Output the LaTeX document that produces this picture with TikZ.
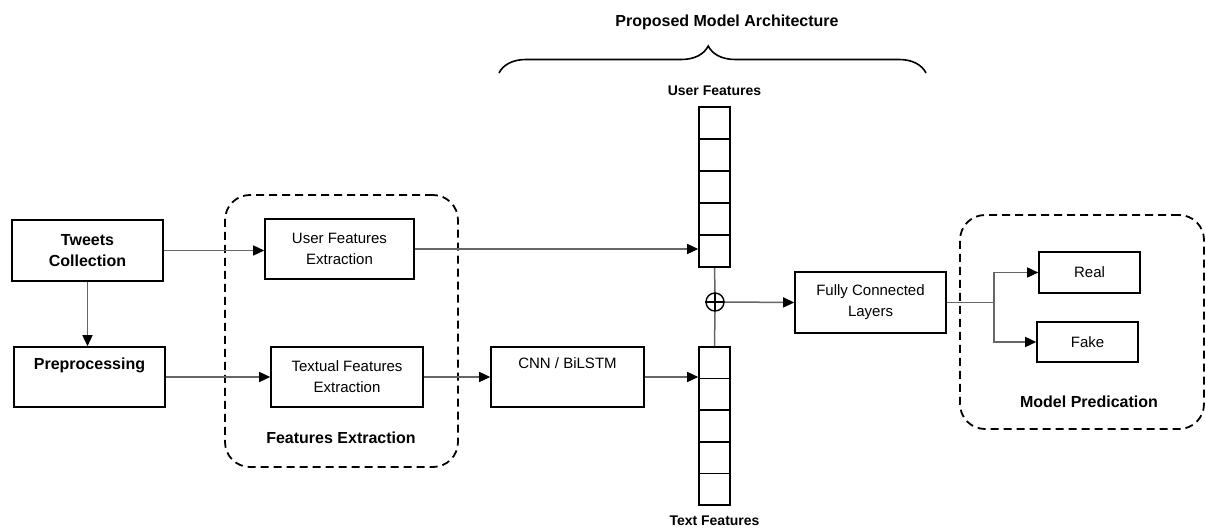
\documentclass[tikz,border=0pt]{standalone}
\usepackage{fontspec}
\setmainfont{Liberation Sans}
\usetikzlibrary{arrows.meta, positioning, decorations.pathreplacing}

\begin{document}
\begin{tikzpicture}[x=1pt, y=-1pt,
  box/.style={draw, line width=1.6pt, align=center, font=\fontsize{15}{21}\selectfont, inner sep=2pt},
  boldbox/.style={box, font=\fontsize{16}{21}\selectfont\bfseries},
  cell/.style={draw, line width=1.6pt, minimum width=31pt, inner sep=0pt},
  group/.style={draw, line width=1.8pt, rounded corners=25pt, dash pattern=on 8pt off 5pt},
  lbl/.style={font=\fontsize{16}{20}\selectfont\bfseries},
  small/.style={font=\fontsize{14}{18}\selectfont\bfseries, inner sep=1pt},
  line/.style={line width=1.5pt, draw=black!60},
  a/.style={line, -{Triangle[length=11pt, width=10pt, color=black]}}]
  \useasboundingbox (0,0) rectangle (1206,529);
  \node[boldbox, minimum width=151pt, minimum height=61pt] (tc) at (87.5,250.5) {Tweets\\Collection};
  \node[boldbox, minimum width=151pt, minimum height=60pt] (pp) at (89.5,377) {Preprocessing\\\strut};
  \node[group, minimum width=233pt, minimum height=272pt] (fe) at (341.5,331) {};
  \node[lbl] (felbl) at (341,438) {Features Extraction};
  \node[box, minimum width=149pt, minimum height=60pt] (ufe) at (339.5,249) {User Features\\Extraction};
  \node[box, minimum width=152pt, minimum height=60pt] (tfe) at (347,377) {Textual Features\\Extraction};
  \node[box, minimum width=153pt, minimum height=60pt] (cnn) at (567.5,377) {CNN / BiLSTM\\\strut};
  \foreach \i [evaluate=\i as \y using 91+32*\i] in {1,...,5}
    \node[cell, minimum height=32pt] (u\i) at (714.5,\y) {};
  \foreach \i [evaluate=\i as \y using 331.2+31.6*\i] in {1,...,5}
    \node[cell, minimum height=31.6pt] (t\i) at (714.5,\y) {};
  \node[small, above=9pt of u1] (ulbl) {User Features};
  \node[small, below=9pt of t5] (tlbl) {Text Features};
  \node[draw, circle, line width=1.4pt, minimum size=18pt, inner sep=0pt] (sum) at (715,302) {};
  \draw[line width=1.4pt] (sum.north) -- (sum.south) (sum.west) -- (sum.east);
  \node[box, minimum width=151pt, minimum height=61pt] (fc) at (870.5,302.5) {Fully Connected\\Layers};
  \node[group, minimum width=244pt, minimum height=214pt] (mp) at (1082,322) {};
  \node[lbl] (mplbl) at (1089,402) {Model Predication};
  \node[box, minimum width=101pt, minimum height=41pt] (real) at (1089.5,272.5) {Real};
  \node[box, minimum width=101pt, minimum height=40pt] (fake) at (1087.5,342) {Fake};
  \coordinate (bl) at (499,73);
  \coordinate (br) at (926,73);
  \draw[line width=1.6pt, decorate, decoration={brace, amplitude=27pt, aspect=0.49}] (bl) -- (br);
  \node[lbl] (pma) at (727,22) {Proposed Model Architecture};
  \draw[a] (tc.east) -- (tc.east -| ufe.west);
  \draw[a] (tc.south) -- (tc.south |- pp.north);
  \draw[a] (pp.east) -- (pp.east -| tfe.west);
  \draw[a] (ufe.east) -- (ufe.east -| u5.west);
  \draw[a] (tfe.east) -- (cnn.west);
  \draw[a] (cnn.east) -- (cnn.east -| t1.west);
  \draw[line] (u5.south) -- (sum.north);
  \draw[line] (sum.south) -- (t1.north);
  \draw[a] (sum.east) -- (fc.west);
  \draw[line] (fc.east) -- ++(47,0) coordinate (split);
  \draw[a] (split) |- (real.west);
  \draw[a] (split) |- (fake.west);
\end{tikzpicture}
\end{document}
